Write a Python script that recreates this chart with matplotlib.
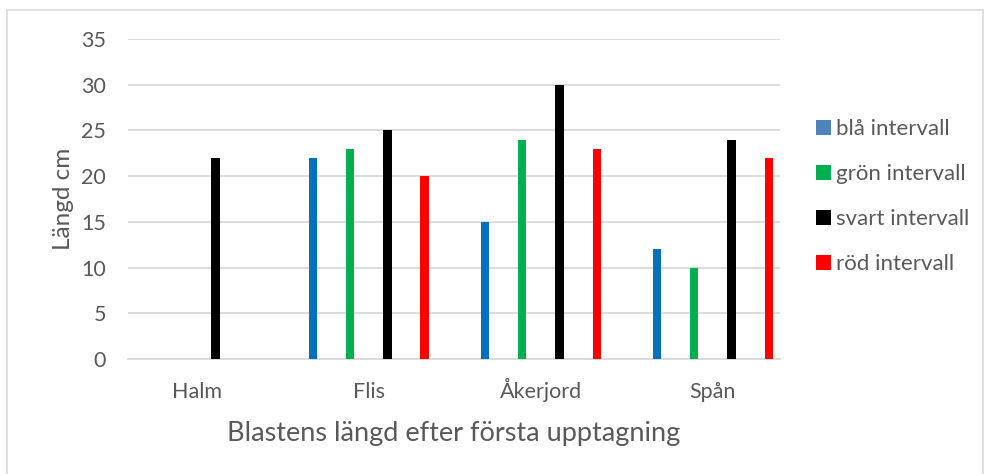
import matplotlib
matplotlib.use("Agg")
import matplotlib.pyplot as plt
import numpy as np
from matplotlib.patches import Patch, Rectangle

plt.rcParams["font.family"] = ["Lato", "DejaVu Sans"]

# Data
categories = ["Halm", "Flis", "Åkerjord", "Spån"]
series_names = ["blå intervall", "grön intervall", "svart intervall", "röd intervall"]
bla = [0, 22, 15, 12]
gron = [0, 23, 24, 10]
svart = [22, 25, 30, 24]
rod = [0, 20, 23, 22]
y_ticks = [0, 5, 10, 15, 20, 25, 30, 35]

bar_colors = ["#0070c0", "#00b050", "#000000", "#ff0000"]
legend_colors = ["#4f81bd", "#00b050", "#000000", "#ff0000"]
text_color = "#595959"
grid_color = "#d9d9d9"

fig = plt.figure(figsize=(9.87, 4.74), dpi=100)
ax = fig.add_axes([0.1297, 0.2426, 0.6606, 0.6751])

x = np.arange(len(categories))
step = 0.216
width = 0.048
for i, (vals, col) in enumerate(zip([bla, gron, svart, rod], bar_colors)):
    ax.bar(x + (i - 1.5) * step, vals, width=width, color=col, zorder=3)

ax.set_xlim(-0.40, 3.39)
ax.set_ylim(0, 35)
ax.set_yticks(y_ticks)
ax.set_xticks(x)
ax.set_xticklabels(categories)
ax.tick_params(axis="both", length=0, colors=text_color, labelsize=15.5)
ax.tick_params(axis="x", pad=28)
ax.tick_params(axis="y", pad=16)
for lbl in ax.get_xticklabels():
    lbl.set_verticalalignment("baseline")
ax.grid(axis="y", color=grid_color, linewidth=1.3, zorder=0)
for s in ["top", "right", "left"]:
    ax.spines[s].set_visible(False)
ax.spines["bottom"].set_color(grid_color)
ax.spines["bottom"].set_linewidth(1.3)

ax.set_ylabel("Längd cm", fontsize=17.5, color=text_color, labelpad=5)
ax.set_xlabel("Blastens längd efter första upptagning", fontsize=19.5, color=text_color, labelpad=14)

handles = [Patch(facecolor=c, edgecolor="none") for c in legend_colors]
fig.legend(handles, series_names, loc="center left", bbox_to_anchor=(0.827, 0.585),
           frameon=False, fontsize=16, labelcolor=text_color, handlelength=0.65,
           handleheight=0.65, handletextpad=0.25, labelspacing=1.12, borderpad=0,
           borderaxespad=0)

# chart border
fig.patches.append(Rectangle((7 / 987, -0.01), 976 / 987, 1 - 10 / 474 + 0.01,
                             transform=fig.transFigure, fill=False,
                             edgecolor="#d9d9d9", linewidth=1.2))

fig.savefig("out.png", dpi=100)
